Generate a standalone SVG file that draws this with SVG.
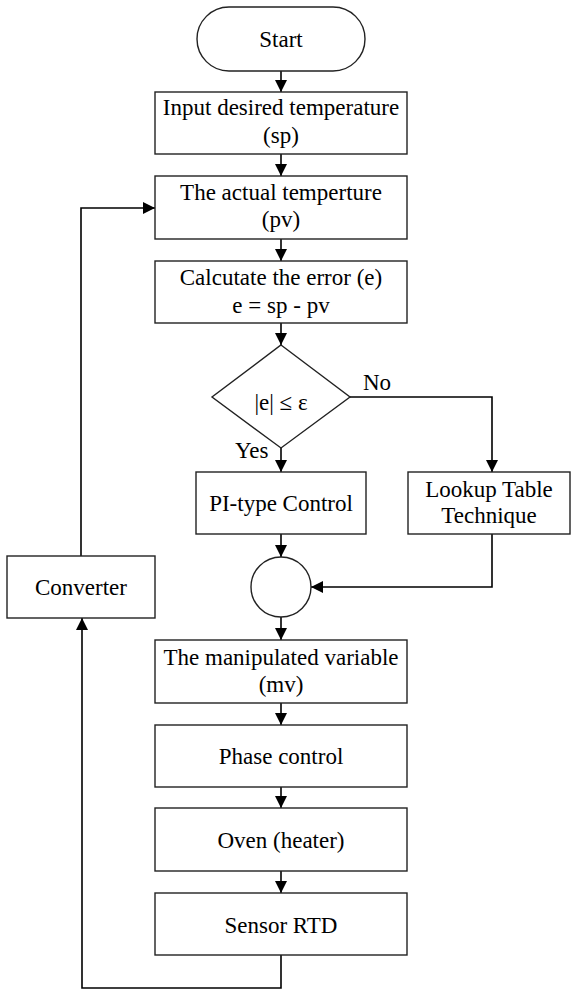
<svg xmlns="http://www.w3.org/2000/svg" width="573" height="1001" viewBox="0 0 573 1001" font-family="'Times New Roman', 'Liberation Serif', Tinos, 'DejaVu Serif', serif">
<style>
.box{fill:#fff;stroke:#222;stroke-width:1.4}
.t{font-family:'Times New Roman','Liberation Serif',Tinos,'DejaVu Serif',serif;font-size:23px;fill:#000;text-anchor:middle}
.tl{font-family:'Times New Roman','Liberation Serif',Tinos,'DejaVu Serif',serif;font-size:23px;fill:#000}
.c{fill:none;stroke:#000;stroke-width:1.6}
</style>
<defs>
<marker id="ah" markerUnits="userSpaceOnUse" markerWidth="12" markerHeight="12" refX="12" refY="6" orient="auto">
<path d="M0,0 L12,6 L0,12 z" fill="#000"/>
</marker>
</defs>
<rect width="573" height="1001" fill="#fff"/>
<g id="connectors">
<line class="c" x1="281" y1="71" x2="281" y2="92" marker-end="url(#ah)"/>
<line class="c" x1="281" y1="154" x2="281" y2="176" marker-end="url(#ah)"/>
<line class="c" x1="281" y1="239" x2="281" y2="261" marker-end="url(#ah)"/>
<line class="c" x1="281" y1="323" x2="281" y2="345" marker-end="url(#ah)"/>
<line class="c" x1="281" y1="448" x2="281" y2="472" marker-end="url(#ah)"/>
<polyline class="c" points="350,397 492,397 492,472" marker-end="url(#ah)"/>
<line class="c" x1="281" y1="534" x2="281" y2="557" marker-end="url(#ah)"/>
<polyline class="c" points="492,534 492,587 311,587" marker-end="url(#ah)"/>
<line class="c" x1="281" y1="617" x2="281" y2="640" marker-end="url(#ah)"/>
<line class="c" x1="281" y1="703" x2="281" y2="725" marker-end="url(#ah)"/>
<line class="c" x1="281" y1="787" x2="281" y2="808" marker-end="url(#ah)"/>
<line class="c" x1="281" y1="871" x2="281" y2="893" marker-end="url(#ah)"/>
<polyline class="c" points="281,955 281,988 82,988 82,618" marker-end="url(#ah)"/>
<polyline class="c" points="81,556 81,208 155,208" marker-end="url(#ah)"/>
<text class="tl" x="363" y="390">No</text>
<text class="tl" x="235" y="458">Yes</text>
</g>
<g id="start">
<rect class="box" x="197" y="7" width="168" height="64" rx="32" ry="32"/>
<text class="t" x="281" y="47">Start</text>
</g>
<g id="input">
<rect class="box" x="155" y="92" width="252" height="62"/>
<text class="t" x="281" y="115">Input desired temperature</text>
<text class="t" x="281" y="143">(sp)</text>
</g>
<g id="actual">
<rect class="box" x="155" y="176" width="252" height="63"/>
<text class="t" x="281" y="200">The actual temperture</text>
<text class="t" x="281" y="227">(pv)</text>
</g>
<g id="error">
<rect class="box" x="155" y="261" width="252" height="62"/>
<text class="t" x="281" y="285">Calcutate the error (e)</text>
<text class="t" x="281" y="313">e = sp - pv</text>
</g>
<g id="decision">
<polygon class="box" points="281,345 350,397 281,448 212,397"/>
<text class="t" x="281" y="410">|e| ≤ ε</text>
</g>
<g id="pi">
<rect class="box" x="196" y="472" width="170" height="62"/>
<text class="t" x="281" y="511">PI-type Control</text>
</g>
<g id="lookup">
<rect class="box" x="408" y="472" width="162" height="62"/>
<text class="t" x="489" y="497">Lookup Table</text>
<text class="t" x="489" y="523">Technique</text>
</g>
<g id="junction">
<circle class="box" cx="281" cy="587" r="30"/>
</g>
<g id="converter">
<rect class="box" x="7" y="556" width="148" height="62"/>
<text class="t" x="81" y="595">Converter</text>
</g>
<g id="mv">
<rect class="box" x="155" y="640" width="252" height="63"/>
<text class="t" x="281" y="665">The manipulated variable</text>
<text class="t" x="281" y="692">(mv)</text>
</g>
<g id="phase">
<rect class="box" x="155" y="725" width="252" height="62"/>
<text class="t" x="281" y="764">Phase control</text>
</g>
<g id="oven">
<rect class="box" x="155" y="808" width="252" height="63"/>
<text class="t" x="281" y="848">Oven (heater)</text>
</g>
<g id="sensor">
<rect class="box" x="155" y="893" width="252" height="62"/>
<text class="t" x="281" y="933">Sensor RTD</text>
</g>
</svg>
